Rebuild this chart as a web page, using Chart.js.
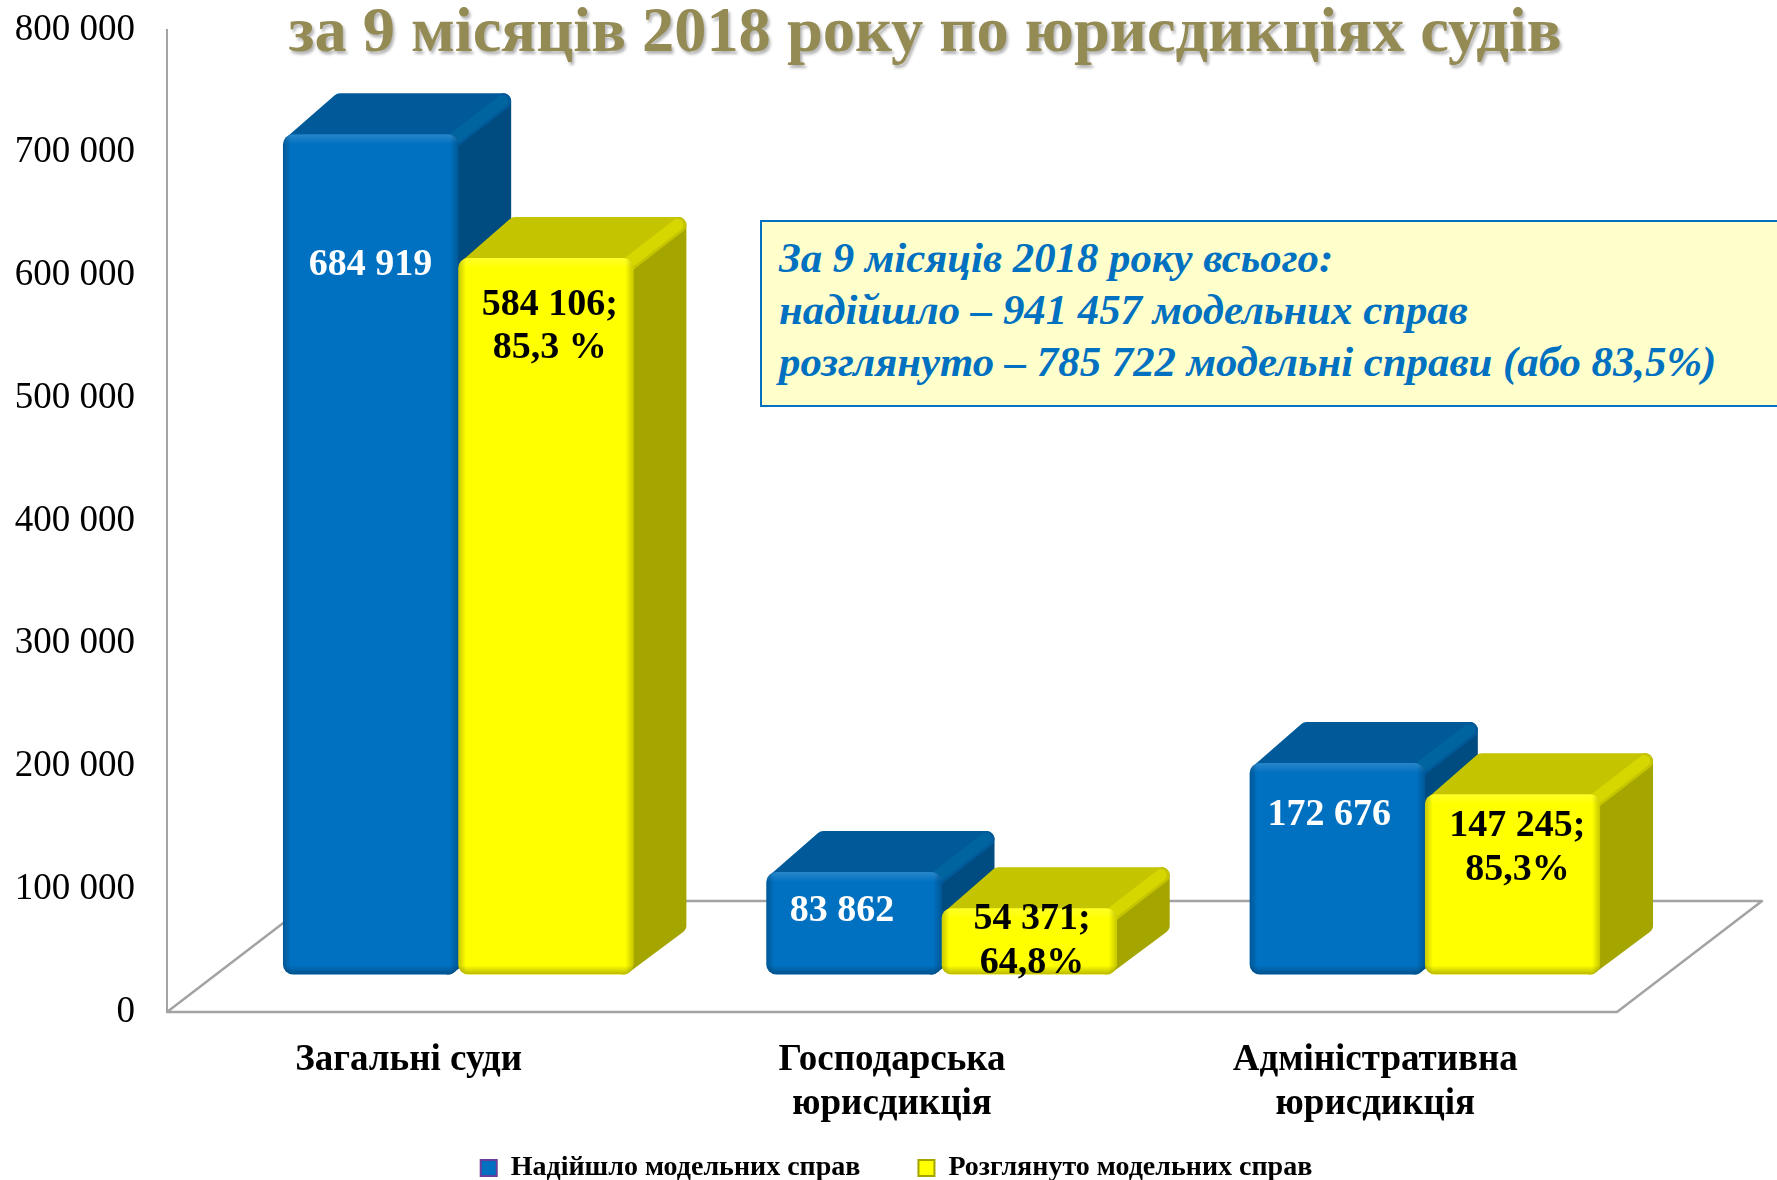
<!DOCTYPE html>
<html lang="uk">
<head>
<meta charset="utf-8">
<title>Модельні справи</title>
<script src="https://cdn.jsdelivr.net/npm/chart.js@4"></script>
<style>
  html, body { margin: 0; padding: 0; background: #fff; overflow: hidden; }
  #wrap { position: relative; width: 1777px; height: 1180px; overflow: hidden; font-family: "Liberation Serif", serif; }
  #chart { position: absolute; left: 0; top: 0; }
  #title { position: absolute; left: 0; top: -5px; width: 1850px; text-align: center; white-space: nowrap;
    font-weight: bold; font-size: 64.4px; line-height: 70px; color: #948a54; text-shadow: 2px 3px 3px #b5b5b5; }
  #note { position: absolute; left: 760px; top: 220px; width: 1040px; height: 183px; box-sizing: content-box;
    background: #ffffcc; border: 2px solid #0070c0; color: #0070c0;
    font-weight: bold; font-style: italic; font-size: 42.8px; line-height: 52px; }
  #note div { margin-left: 17px; white-space: nowrap; position: relative; top: 10px; }
</style>
</head>
<body>
<div id="wrap">
  <canvas id="chart" width="1777" height="1180"></canvas>
  <div id="title">за 9 місяців 2018 року по юрисдикціях судів</div>
  <div id="note">
    <div>За 9 місяців 2018 року всього:</div>
    <div>надійшло – 941 457 модельних справ</div>
    <div>розглянуто – 785 722 модельні справи (або 83,5%)</div>
  </div>
</div>
<script>
const categories = [['Загальні суди'], ['Господарська', 'юрисдикція'], ['Адміністративна', 'юрисдикція']];
const receivedName = 'Надійшло модельних справ';
const reviewedName = 'Розглянуто модельних справ';
const received = [684919, 83862, 172676];
const reviewed = [584106, 54371, 147245];
const reviewedShare = ['85,3 %', '64,8%', '85,3%'];

const spaced = v => String(v).replace(/\B(?=(\d{3})+$)/g, ' ');

// the bars stand in the middle of the floor, not on its front edge
const shiftX = 49.5, shiftY = -37;
const depthX = 53, depthY = 41;
const floorX = 145, floorY = 111;

const looks = [
  { top: '#005a9a', side: '#004b80', ridge: '#00649f' },
  { top: '#c4c400', side: '#a5a500', ridge: '#d6d600' }
];

// hand placed labels: [x nudge, y below the top of the bar]
const labelPlace = [
  [[0, 131], [-12, 39], [-8, 52]],
  [[4, 47], [3, 11], [5, 32]]
];

const floorAndBlocks = {
  id: 'floorAndBlocks',
  afterLayout(chart) {
    // legend sits off the centre in the original
    const lg = chart.legend;
    lg.top += 12; lg.bottom += 12;
    lg.left += 88; lg.right += 88;
    // labels get clipped to the axis box, so let it run down under the legend
    chart.scales.x.bottom = chart.height;
  },
  beforeDatasetsDraw(chart) {
    const { ctx, chartArea: a } = chart;
    ctx.save();
    ctx.strokeStyle = '#a3a3a3';
    ctx.lineWidth = 2.5;
    ctx.lineJoin = 'round';
    ctx.beginPath();
    ctx.moveTo(a.left, a.bottom);
    ctx.lineTo(a.right, a.bottom);
    ctx.lineTo(a.right + floorX, a.bottom - floorY);
    ctx.lineTo(a.left + floorX, a.bottom - floorY);
    ctx.closePath();
    ctx.stroke();
    ctx.restore();

    ctx.save();
    ctx.translate(shiftX, shiftY);
    [0, 1].forEach(d => {
      chart.getDatasetMeta(d).data.forEach(bar => {
        const l = bar.x - bar.width / 2, r = bar.x + bar.width / 2;
        const t = bar.y, b = bar.base, look = looks[d];
        ctx.lineJoin = 'round';
        ctx.lineWidth = 16;
        // side
        ctx.fillStyle = ctx.strokeStyle = look.side;
        ctx.beginPath();
        ctx.moveTo(r - 10, t + 8);
        ctx.lineTo(r + depthX - 8, t - depthY + 8);
        ctx.lineTo(r + depthX - 8, b - depthY - 8);
        ctx.lineTo(r - 10, b - 8);
        ctx.closePath();
        ctx.fill();
        ctx.stroke();
        // top
        ctx.fillStyle = ctx.strokeStyle = look.top;
        ctx.beginPath();
        ctx.moveTo(l + 10, t + 8);
        ctx.lineTo(l + depthX + 4, t - depthY + 8);
        ctx.lineTo(r + depthX - 8, t - depthY + 8);
        ctx.lineTo(r - 8, t + 8);
        ctx.closePath();
        ctx.fill();
        ctx.stroke();
        // lighter ridge between top and side
        ctx.strokeStyle = look.ridge;
        ctx.lineWidth = 12;
        ctx.lineCap = 'round';
        ctx.beginPath();
        ctx.moveTo(r - 4, t + 4);
        ctx.lineTo(r + depthX - 9, t - depthY + 8);
        ctx.stroke();
      });
    });
  },
  afterDatasetsDraw(chart) {
    const { ctx } = chart;
    [0, 1].forEach(d => {
      chart.getDatasetMeta(d).data.forEach(bar => {
        const l = bar.x - bar.width / 2, w = bar.width;
        const t = bar.y, h = bar.base - bar.y;
        ctx.save();
        ctx.beginPath();
        ctx.roundRect(l, t, w, h, 10);
        ctx.clip();
        let g = ctx.createLinearGradient(0, t, 0, t + 10);
        g.addColorStop(0, 'rgba(255,255,255,.16)');
        g.addColorStop(1, 'rgba(255,255,255,0)');
        ctx.fillStyle = g;
        ctx.fillRect(l, t, w, 10);
        g = ctx.createLinearGradient(0, t + h - 9, 0, t + h);
        g.addColorStop(0, 'rgba(0,0,0,0)');
        g.addColorStop(1, 'rgba(0,0,0,.28)');
        ctx.fillStyle = g;
        ctx.fillRect(l, t + h - 9, w, 9);
        g = ctx.createLinearGradient(l, 0, l + 8, 0);
        g.addColorStop(0, 'rgba(0,0,0,.22)');
        g.addColorStop(1, 'rgba(0,0,0,0)');
        ctx.fillStyle = g;
        ctx.fillRect(l, t, 8, h);
        g = ctx.createLinearGradient(l + w - 8, 0, l + w, 0);
        g.addColorStop(0, 'rgba(0,0,0,0)');
        g.addColorStop(1, 'rgba(0,0,0,.22)');
        ctx.fillStyle = g;
        ctx.fillRect(l + w - 8, t, 8, h);
        ctx.restore();
      });
    });

    ctx.font = 'bold 38px "Liberation Serif"';
    ctx.textAlign = 'center';
    ctx.textBaseline = 'middle';
    chart.getDatasetMeta(0).data.forEach((bar, i) => {
      const [nx, ny] = labelPlace[0][i];
      ctx.fillStyle = '#fff';
      ctx.fillText(spaced(received[i]), bar.x + nx, bar.y + ny);
    });
    chart.getDatasetMeta(1).data.forEach((bar, i) => {
      const [nx, ny] = labelPlace[1][i];
      ctx.fillStyle = '#000';
      ctx.fillText(spaced(reviewed[i]) + ';', bar.x + nx, bar.y + ny);
      ctx.fillText(reviewedShare[i], bar.x + nx, bar.y + ny + 43.5);
    });
    ctx.restore();
  }
};

new Chart(document.getElementById('chart').getContext('2d'), {
  type: 'bar',
  plugins: [floorAndBlocks],
  data: {
    labels: categories,
    datasets: [
      { label: receivedName, data: received, backgroundColor: '#0070c0', borderRadius: 10, borderSkipped: false },
      { label: reviewedName, data: reviewed, backgroundColor: '#ffff00', borderRadius: 10, borderSkipped: false }
    ]
  },
  options: {
    responsive: false,
    animation: false,
    barPercentage: 1,
    categoryPercentage: 0.725,
    clip: false,
    layout: { autoPadding: false, padding: { left: 0, right: 160, top: 30, bottom: 0 } },
    plugins: {
      tooltip: { enabled: false },
      legend: {
        position: 'bottom',
        labels: {
          boxWidth: 16,
          boxHeight: 16,
          padding: 58,
          color: '#000',
          font: { family: '"Liberation Serif"', size: 28, weight: 'bold' },
          generateLabels: () => [
            { text: receivedName, fillStyle: '#0070c0', strokeStyle: '#6a3d9a', lineWidth: 2, datasetIndex: 0 },
            { text: reviewedName, fillStyle: '#ffff00', strokeStyle: '#a5a500', lineWidth: 2, datasetIndex: 1 }
          ]
        }
      }
    },
    scales: {
      x: {
        afterFit(s) { s.height = 72; },
        grid: { display: false },
        border: { display: false },
        ticks: {
          color: '#000',
          padding: 19,
          maxRotation: 0,
          font: { family: '"Liberation Serif"', size: 37, weight: 'bold', lineHeight: 1.18 }
        }
      },
      y: {
        min: 0,
        max: 800000,
        afterFit(s) { s.width = 167; },
        // invisible ticks keep the labels off the axis: tick padding would also eat into the plot height
        grid: { drawOnChartArea: false, tickLength: 32, tickColor: 'transparent' },
        border: { color: '#a3a3a3', width: 2 },
        ticks: {
          stepSize: 100000,
          color: '#000',
          padding: 0,
          font: { family: '"Liberation Serif"', size: 37 },
          callback: v => spaced(v)
        }
      }
    }
  }
});
</script>
</body>
</html>
